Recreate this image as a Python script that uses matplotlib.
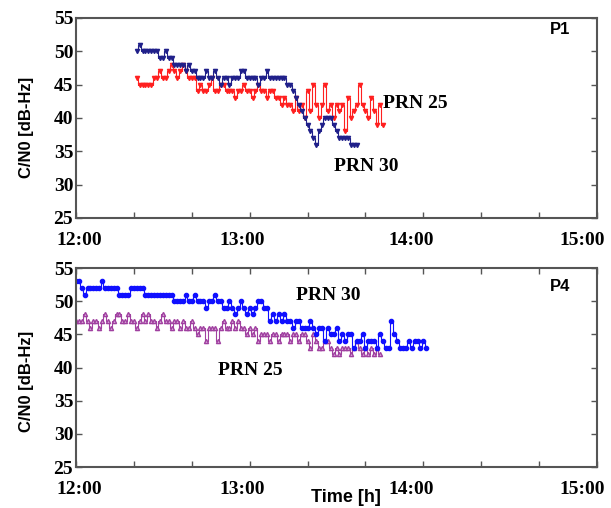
import matplotlib.pyplot as plt
from matplotlib.ticker import MultipleLocator

# minutes after 12:00, one value per minute
p1_prn30_t0 = 21
p1_prn30 = [50, 51, 50, 50, 50, 50, 50, 50, 49, 49, 50, 49, 49, 48, 48, 48, 48, 47, 48, 47,
            47, 46, 46, 46, 47, 46, 46, 47, 46, 45, 46, 46, 45, 46, 46, 46, 47, 47, 46, 46,
            46, 46, 45, 46, 46, 47, 46, 46, 46, 46, 46, 46, 45, 45, 44, 43, 42, 41, 40, 39,
            38, 37, 36, 38, 39, 40, 40, 40, 39, 38, 37, 37, 37, 37, 36, 36, 36]
p1_prn25_t0 = 21
p1_prn25 = [46, 45, 45, 45, 45, 45, 46, 46, 47, 46, 46, 47, 48, 47, 46, 47, 48, 47, 46, 46,
            46, 44, 45, 44, 44, 45, 46, 44, 44, 45, 45, 44, 44, 44, 43, 44, 44, 45, 44, 44,
            43, 44, 45, 44, 44, 43, 44, 44, 43, 43, 42, 43, 42, 42, 41, 43, 41, 42, 40, 44,
            41, 45, 42, 40, 42, 45, 41, 42, 40, 42, 41, 42, 38, 43, 40, 41, 42, 45, 42, 41,
            40, 43, 41, 39, 42, 39]

p4_prn30_t0 = 0
p4_prn30 = [53, 53, 52, 51, 52, 52, 52, 52, 52, 53, 52, 52, 52, 52, 52, 51, 51, 51, 51, 52,
            52, 52, 52, 52, 51, 51, 51, 51, 51, 51, 51, 51, 51, 51, 50, 50, 50, 50, 51, 50,
            50, 51, 50, 50, 50, 49, 50, 50, 51, 50, 50, 49, 49, 50, 49, 48, 49, 50, 49, 48,
            49, 48, 49, 50, 50, 49, 49, 47, 48, 47, 48, 47, 48, 47, 47, 46, 47, 47, 46, 46,
            46, 47, 46, 45, 46, 46, 44, 46, 45, 45, 46, 44, 45, 44, 45, 45, 43, 44, 44, 45,
            43, 44, 44, 44, 43, 45, 44, 43, 43, 47, 45, 44, 43, 43, 43, 44, 43, 44, 44, 43,
            44, 43]
p4_prn25_t0 = 0
p4_prn25 = [47, 47, 47, 48, 47, 46, 47, 47, 46, 47, 48, 47, 46, 47, 48, 48, 47, 47, 48, 47,
            47, 46, 47, 48, 47, 48, 47, 47, 46, 47, 48, 47, 47, 46, 47, 47, 46, 47, 46, 46,
            47, 46, 45, 46, 46, 44, 46, 46, 46, 44, 46, 47, 46, 46, 47, 46, 47, 46, 46, 45,
            46, 45, 46, 44, 45, 45, 45, 44, 45, 45, 44, 45, 45, 45, 44, 45, 45, 44, 45, 45,
            44, 43, 45, 44, 43, 43, 44, 44, 43, 42, 43, 42, 43, 43, 43, 42, 43, 44, 43, 42,
            43, 42, 43, 42, 43, 42]

xticks = [0, 60, 120, 180]
xlabels = ['12:00', '13:00', '14:00', '15:00']
yticks = [25, 30, 35, 40, 45, 50, 55]

serif = ['Liberation Serif', 'DejaVu Serif']
sans = ['Liberation Sans', 'DejaVu Sans']

fig = plt.figure(figsize=(6.11, 5.08), dpi=100)
ax1 = fig.add_axes([76/611, 1 - 218/508, 521/611, 200/508])
ax2 = fig.add_axes([76/611, 1 - 467/508, 521/611, 199/508])


def mins(t0, vals):
    return [t0 + i for i in range(len(vals))]


style = dict(markersize=3, lw=0.8, drawstyle='steps-mid')
ax1.plot(mins(p1_prn25_t0, p1_prn25), p1_prn25, color='#ff2020', marker='v', **style)
ax1.plot(mins(p1_prn30_t0, p1_prn30), p1_prn30, color='#20208a', marker='v', **style)
ax2.plot(mins(p4_prn25_t0, p4_prn25), p4_prn25, color='#a040a0', marker='^',
         markerfacecolor='#d8a8d8', **style)
ax2.plot(mins(p4_prn30_t0, p4_prn30), p4_prn30, color='#1010ff', marker='o', **style)

# time labels drawn by hand so they can sit slightly off their ticks, as in the original
label_shift = [3, -7, -12, -15]

for ax in (ax1, ax2):
    ax.set_xlim(0, 180)
    ax.set_ylim(25, 55)
    ax.set_xticks(xticks)
    ax.set_xticklabels([])
    for t, lab, dx in zip(xticks, xlabels, label_shift):
        ax.annotate(lab, xy=(t, 0), xycoords=('data', 'axes fraction'),
                    xytext=(dx, -14), textcoords='offset pixels', ha='center', va='top',
                    family=serif, fontweight='bold', fontsize=14, annotation_clip=False)
    ax.set_yticks(yticks)
    ax.set_yticklabels([str(v) for v in yticks], family=serif, fontweight='bold', fontsize=14)
    ax.xaxis.set_minor_locator(MultipleLocator(20))
    ax.tick_params(which='both', direction='in', length=4, width=1, color='#555555',
                   right=True, top=(ax is ax2))
    ax.tick_params(axis='y', pad=2)
    for s in ax.spines.values():
        s.set_color('#555555')
        s.set_linewidth(1.5)

ax1.text(0.93, 0.94, 'P1', transform=ax1.transAxes, family=sans, fontweight='bold',
         fontsize=12, ha='center', va='center')
ax2.text(0.93, 0.905, 'P4', transform=ax2.transAxes, family=sans, fontweight='bold',
         fontsize=12, ha='center', va='center')

ax1.text(106, 42.2, 'PRN 25', family=serif, fontweight='bold', fontsize=14, va='center')
ax1.text(89, 32.7, 'PRN 30', family=serif, fontweight='bold', fontsize=14, va='center')
ax2.text(76, 50.9, 'PRN 30', family=serif, fontweight='bold', fontsize=14, va='center')
ax2.text(49, 39.6, 'PRN 25', family=serif, fontweight='bold', fontsize=14, va='center')

fig.text(27/611, 1 - 127/508, 'C/N0 [dB-Hz]', family=sans, fontweight='bold', fontsize=12,
         rotation=90, ha='center', va='center')
fig.text(27/611, 1 - 381/508, 'C/N0 [dB-Hz]', family=sans, fontweight='bold', fontsize=12,
         rotation=90, ha='center', va='center')
fig.text(346/611, 1 - 498/508, 'Time [h]', family=sans, fontweight='bold', fontsize=13,
         ha='center', va='center')

plt.savefig('out.png', dpi=100)
